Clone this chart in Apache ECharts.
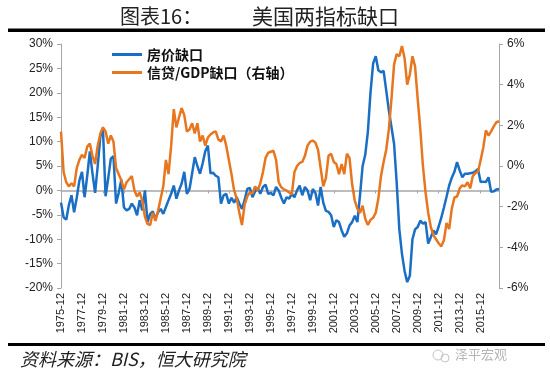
<!DOCTYPE html>
<html>
<head>
<meta charset="utf-8">
<script src="https://cdn.jsdelivr.net/npm/echarts@6/dist/echarts.min.js"></script>
<style>
html,body{margin:0;padding:0;background:#fff;}
#chart{width:550px;height:380px;}
</style>
</head>
<body>
<div id="chart"></div>
<script>
// Quarterly categories, 1975-12 .. 2017-09
const categories = [];
(function(){
  let y = 1975, m = 12;
  for (let k = 0; k < 168; k++) {
    categories.push(y + '-' + (m < 10 ? '0' + m : m));
    m += 3; if (m > 12) { m -= 12; y += 1; }
  }
})();

// 房价缺口 (%), left axis
const housePriceGap = [
 -2.5,-5.5,-6.0,-3.0,-1.0,-4.5,-1.5,2.0,3.8,-1.4,
 3.0,8.0,3.5,-0.5,5.0,11.0,12.5,-1.2,2.5,6.5,
 7.0,-2.7,-0.5,2.2,-3.5,-4.1,-3.8,-2.7,-3.5,-5.1,
 -2.0,-4.1,0.0,-6.5,-4.8,-4.3,-5.8,-4.5,-3.8,-4.8,
 -3.4,-2.0,-0.7,1.0,-1.7,0.0,1.4,3.8,-0.7,0.3,
 3.5,6.8,5.0,3.4,5.5,8.0,9.2,3.5,3.6,3.0,
 2.7,-2.7,-1.0,-0.7,-2.7,-1.5,-2.5,-1.4,-2.7,-3.8,
 -2.0,0.3,0.5,-1.4,-0.2,0.5,-0.7,0.7,1.2,-0.7,
 -0.5,-1.0,0.7,0.0,-1.5,-2.7,-1.4,-1.7,-0.7,-1.4,
 0.0,1.0,-1.0,0.7,0.0,-2.0,0.3,-0.5,-3.1,0.7,
 -2.5,-4.2,-4.4,-5.1,-7.5,-6.1,-6.5,-8.2,-9.5,-8.8,
 -7.2,-6.5,-5.2,-6.5,-1.0,5.0,7.3,12.0,20.0,26.0,
 27.5,24.6,24.2,24.5,20.5,16.4,13.0,9.5,1.5,-8.0,
 -13.0,-16.5,-18.8,-17.5,-10.0,-8.0,-7.5,-6.2,-6.8,-6.5,
 -10.9,-9.6,-8.2,-9.0,-7.4,-5.6,-3.5,-1.3,1.0,2.6,
 3.8,5.8,4.1,2.7,3.4,3.4,3.5,3.6,3.9,4.4,
 1.7,1.8,1.7,2.7,-0.3,-0.2,0.2,0.3
];

// 信贷/GDP缺口 (%), right axis
const creditGdpGap = [
 1.69,-0.3,-0.8,-1.0,-0.85,-1.0,-0.1,0.3,0.55,0.4,
 0.95,1.1,0.5,0.1,1.0,1.6,1.9,1.7,1.1,1.5,
 1.2,-0.1,-0.4,-0.7,-1.15,-0.8,-0.65,-0.5,-1.2,-1.5,
 -1.3,-1.7,-2.5,-2.85,-2.9,-2.3,-2.7,-2.2,-1.6,-1.0,
 0.3,-0.4,1.0,2.8,1.9,2.4,2.85,2.5,1.7,1.8,
 2.1,1.6,2.1,1.2,1.5,1.0,1.4,1.55,1.65,1.7,
 1.3,1.2,1.5,1.0,0.3,-0.4,-1.2,-1.6,-2.3,-2.9,
 -1.9,-1.5,-1.3,-1.35,-1.0,-1.2,-0.85,-0.3,0.4,0.65,
 0.7,0.75,0.3,-0.8,-1.05,-1.15,-1.2,-1.3,-1.4,-0.3,
 0.0,0.15,0.2,0.5,1.0,1.2,1.25,1.15,0.8,-0.1,
 -1.0,-0.6,0.5,0.6,0.2,0.1,-0.4,0.1,-0.4,0.6,
 0.4,-0.9,-1.7,-2.1,-2.3,-1.95,-2.6,-2.9,-2.65,-2.55,
 -2.3,-1.6,-0.5,0.2,0.8,1.8,3.3,5.0,5.5,5.4,
 5.9,5.3,4.0,4.5,5.4,4.9,3.3,1.8,0.0,-1.3,
 -2.3,-3.0,-3.4,-3.6,-3.8,-3.95,-3.65,-2.8,-3.1,-2.1,
 -1.55,-1.5,-1.1,-0.95,-1.0,-0.8,-1.1,-0.5,-0.35,-0.28,
 0.3,0.9,1.75,1.5,1.7,1.95,2.15,2.2
];

const seriesNames = ['房价缺口', '信贷/GDP缺口（右轴）'];
const titleLeft = '图表16：';
const titleRight = '美国两指标缺口';
const sourceText = '资料来源：BIS，恒大研究院';
const watermark = '泽平宏观';

const chart = echarts.init(document.getElementById('chart'));
const axisGray = '#a6a6a6';
chart.setOption({
  animation: false,
  backgroundColor: '#fff',
  grid: {left: 61, right: 51, top: 44, bottom: 92, containLabel: false},
  legend: {
    orient: 'vertical', left: 107, top: 41, itemWidth: 30, itemHeight: 3, itemGap: 1,
    icon: 'path://M0,0 L30,0 L30,3 L0,3 Z',
    data: seriesNames,
    textStyle: {fontSize: 14, fontWeight: 'bold', color: '#111', fontFamily: 'Noto Sans CJK SC', lineHeight: 17}
  },
  xAxis: [
    {
      type: 'category', data: categories, boundaryGap: false,
      axisLine: {show: false, onZero: false}, axisTick: {show: false},
      axisLabel: {rotate: 90, interval: 7, fontSize: 11, color: '#222', margin: 5, fontFamily: 'Liberation Sans'}
    },
    {
      type: 'category', data: categories, boundaryGap: false, position: 'bottom',
      axisLine: {show: true, onZero: true, onZeroAxisIndex: 0, lineStyle: {color: axisGray, width: 1.5}},
      axisTick: {show: true, interval: 7, length: 3, lineStyle: {color: axisGray}},
      axisLabel: {show: false}
    }
  ],
  yAxis: [
    {
      type: 'value', min: -20, max: 30, interval: 5,
      axisLine: {show: true, lineStyle: {color: axisGray, width: 1}},
      axisTick: {show: true, length: 4, lineStyle: {color: axisGray}},
      splitLine: {show: false},
      axisLabel: {formatter: '{value}%', fontSize: 12, color: '#222', margin: 8, fontFamily: 'Liberation Sans'}
    },
    {
      type: 'value', min: -6, max: 6, interval: 2, position: 'right',
      axisLine: {show: true, lineStyle: {color: axisGray, width: 1}},
      axisTick: {show: true, length: 4, lineStyle: {color: axisGray}},
      splitLine: {show: false},
      axisLabel: {formatter: '{value}%', fontSize: 12, color: '#222', margin: 8, fontFamily: 'Liberation Sans'}
    }
  ],
  series: [
    {
      name: seriesNames[0], type: 'line', xAxisIndex: 0, yAxisIndex: 0, data: housePriceGap,
      symbol: 'none', lineStyle: {color: '#1a6fc4', width: 2.5}, itemStyle: {color: '#1a6fc4'}
    },
    {
      name: seriesNames[1], type: 'line', xAxisIndex: 0, yAxisIndex: 1, data: creditGdpGap,
      symbol: 'none', lineStyle: {color: '#e8761f', width: 2.5}, itemStyle: {color: '#e8761f'}
    }
  ],
  graphic: [
    {type: 'text', left: 120, top: 6, style: {text: titleLeft, fontSize: 20, fill: '#222', fontFamily: 'Noto Sans CJK SC'}},
    {type: 'text', left: 252, top: 6, style: {text: titleRight, fontSize: 21, fill: '#222', fontFamily: 'Noto Sans CJK SC'}},
    {type: 'rect', shape: {x: 8, y: 28.5, width: 537, height: 3.5}, style: {fill: '#000'}},
    {type: 'rect', shape: {x: 8, y: 343, width: 537, height: 3}, style: {fill: '#000'}},
    {type: 'text', left: 20, top: 350, style: {text: sourceText, fontSize: 18, fontStyle: 'italic', fill: '#222', fontFamily: 'Noto Sans CJK SC'}},
    {type: 'circle', shape: {cx: 438, cy: 355, r: 5}, style: {fill: 'none', stroke: '#c4c4c4', lineWidth: 1}},
    {type: 'circle', shape: {cx: 445, cy: 358, r: 4}, style: {fill: 'none', stroke: '#c4c4c4', lineWidth: 1}},
    {type: 'text', left: 455, top: 348, style: {text: watermark, fontSize: 13, fill: '#b5b5b5', fontFamily: 'Noto Sans CJK SC'}}
  ]
});
</script>
</body>
</html>
